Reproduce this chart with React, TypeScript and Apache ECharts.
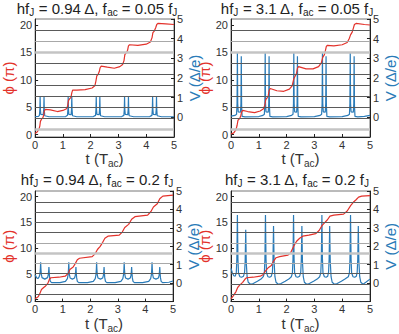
import React, { useEffect, useRef } from 'react';
import * as echarts from 'echarts';

const timeTicks = [0, 1, 2, 3, 4, 5];
const phaseTicks = [0, 5, 10, 15, 20];
const voltTicks = [0, 1, 2, 3, 4, 5];
const phaseLevels = [1, 3, 5, 7, 9, 11, 13, 15, 17, 19];

const hfValues = ['0.94', '3.1', '0.94', '3.1'];
const facValues = ['0.05', '0.05', '0.2', '0.2'];
const thickLightLevels = [[15, 1], [15, 1], [9], [9]];
const thinLightLevels = [[17], [17], [11, 7], [11, 7]];

const p1Phase = [[0,0.2],[0.08,0.5],[0.14,1.0],[0.17,1.6],[0.19,2.4],[0.23,2.8],[0.28,3.1],[0.31,3.6],[0.33,4.3],[0.37,4.6],[0.55,4.5],[0.8,4.2],[1.0,4.4],[1.13,4.7],[1.17,5.2],[1.2,6.2],[1.24,6.5],[1.29,6.8],[1.32,7.6],[1.35,8.1],[1.5,8.1],[1.8,8.2],[2.05,8.5],[2.15,8.9],[2.19,9.8],[2.22,10.7],[2.27,11.0],[2.31,11.5],[2.34,12.2],[2.38,12.5],[2.6,12.3],[2.85,12.1],[3.05,12.4],[3.15,12.8],[3.2,13.5],[3.23,14.6],[3.28,14.9],[3.33,15.4],[3.36,16.2],[3.4,16.4],[3.7,16.3],[4.0,16.5],[4.15,16.9],[4.21,17.7],[4.24,18.6],[4.29,18.9],[4.34,19.5],[4.38,20.1],[4.42,20.3],[4.7,20.2],[5,20.1]];

const p1Volt = [[0,0.04],[0.12,0.05],[0.155,0.1],[0.17,0.4],[0.18,1.05],[0.19,0.4],[0.205,0.15],[0.29,0.14],[0.31,0.4],[0.32,1.05],[0.33,0.4],[0.345,0.08],[0.5,0.03],
[1.1,0.04],[1.165,0.1],[1.18,0.4],[1.19,1.05],[1.2,0.4],[1.215,0.15],[1.295,0.14],[1.31,0.4],[1.32,1.05],[1.33,0.4],[1.345,0.08],[1.5,0.03],
[2.1,0.04],[2.175,0.1],[2.19,0.4],[2.2,1.05],[2.21,0.4],[2.225,0.15],[2.305,0.14],[2.32,0.4],[2.33,1.05],[2.34,0.4],[2.355,0.08],[2.5,0.03],
[3.12,0.04],[3.195,0.1],[3.21,0.4],[3.22,1.05],[3.23,0.4],[3.245,0.15],[3.335,0.14],[3.35,0.4],[3.36,1.05],[3.37,0.4],[3.385,0.08],[3.55,0.03],
[4.13,0.04],[4.205,0.1],[4.22,0.4],[4.23,1.05],[4.24,0.4],[4.255,0.15],[4.345,0.14],[4.36,0.4],[4.37,1.05],[4.38,0.4],[4.395,0.08],[4.55,0.03],[5,0.03]];

const p2Phase = [[0,0.1],[0.1,0.3],[0.18,0.9],[0.22,1.7],[0.25,2.6],[0.31,2.9],[0.35,3.4],[0.38,4.1],[0.42,4.4],[0.6,4.2],[0.85,4.0],[1.05,4.3],[1.17,4.7],[1.22,5.4],[1.25,6.4],[1.3,6.7],[1.34,7.1],[1.37,8.0],[1.41,8.4],[1.65,8.0],[1.9,7.9],[2.1,8.3],[2.2,8.9],[2.26,10.2],[2.3,10.6],[2.36,11.2],[2.39,12.1],[2.43,12.4],[2.7,12.0],[2.95,12.0],[3.15,12.4],[3.25,13.1],[3.3,14.1],[3.36,14.6],[3.4,15.4],[3.43,16.1],[3.47,16.3],[3.7,16.2],[4.0,16.4],[4.18,16.8],[4.26,17.6],[4.3,18.2],[4.36,18.7],[4.4,19.4],[4.44,20.1],[4.5,20.3],[4.8,20.1],[5,20.0]];

const p2Volt = [[0,0.06],[0.15,0.1],[0.2,0.16],[0.218,0.7],[0.23,3.3],[0.242,0.7],[0.26,0.28],[0.34,0.26],[0.358,0.7],[0.37,3.1],[0.382,0.6],[0.4,0.05],[0.5,0.02],
[1.0,0.04],[1.15,0.1],[1.2,0.16],[1.218,0.7],[1.23,3.3],[1.242,0.7],[1.26,0.28],[1.34,0.26],[1.358,0.7],[1.37,3.1],[1.382,0.6],[1.4,0.05],[1.5,0.02],
[2.0,0.04],[2.18,0.1],[2.23,0.16],[2.248,0.7],[2.26,3.3],[2.272,0.7],[2.29,0.28],[2.36,0.26],[2.378,0.7],[2.39,3.1],[2.402,0.6],[2.42,0.05],[2.52,0.02],
[3.0,0.04],[3.21,0.1],[3.26,0.16],[3.278,0.7],[3.29,3.3],[3.302,0.7],[3.32,0.28],[3.39,0.26],[3.408,0.7],[3.42,3.1],[3.432,0.6],[3.45,0.05],[3.55,0.02],
[4.0,0.04],[4.21,0.1],[4.26,0.16],[4.278,0.7],[4.29,3.3],[4.302,0.7],[4.32,0.28],[4.4,0.26],[4.418,0.7],[4.43,3.1],[4.442,0.6],[4.46,0.05],[4.56,0.02],[4.8,0.05],[5,0.1]];

const p3Phase = [[0,0.1],[0.11,0.5],[0.17,1.1],[0.23,1.9],[0.31,2.3],[0.38,2.6],[0.46,3.1],[0.52,3.9],[0.57,4.2],[0.86,4.3],[1.09,4.5],[1.21,5.1],[1.26,5.8],[1.38,6.3],[1.46,7.0],[1.53,7.7],[1.61,8.0],[2.07,8.3],[2.18,8.9],[2.26,9.7],[2.36,10.3],[2.45,11.1],[2.53,11.9],[2.64,12.3],[3.05,12.5],[3.16,13.1],[3.25,14.0],[3.39,14.6],[3.5,15.6],[3.62,16.1],[4.08,16.4],[4.2,17.1],[4.29,18.0],[4.43,18.6],[4.52,19.6],[4.63,20.1],[5,20.3]];

const p3Volt = [[0,0.45],[0.05,0.3],[0.1,0.25],[0.15,0.35],[0.175,0.5],[0.19,0.78],[0.2,1.13],[0.21,0.78],[0.225,0.48],[0.25,0.3],[0.35,0.22],[0.45,0.3],[0.475,0.45],[0.49,0.65],[0.5,0.87],[0.51,0.6],[0.525,0.3],[0.55,0.1],[0.6,0.03],[0.9,0.03],
[1.1,0.1],[1.17,0.25],[1.195,0.45],[1.21,0.75],[1.22,1.13],[1.23,0.75],[1.245,0.45],[1.27,0.28],[1.35,0.22],[1.43,0.28],[1.455,0.42],[1.47,0.65],[1.48,0.87],[1.49,0.6],[1.505,0.3],[1.53,0.1],[1.58,0.03],[1.9,0.03],
[2.11,0.1],[2.18,0.25],[2.205,0.45],[2.22,0.75],[2.23,1.13],[2.24,0.75],[2.255,0.45],[2.28,0.28],[2.37,0.22],[2.45,0.28],[2.475,0.42],[2.49,0.65],[2.5,0.87],[2.51,0.6],[2.525,0.3],[2.55,0.1],[2.6,0.03],[2.9,0.03],
[3.11,0.1],[3.18,0.25],[3.205,0.45],[3.22,0.75],[3.23,1.13],[3.24,0.75],[3.255,0.45],[3.28,0.28],[3.37,0.22],[3.45,0.28],[3.475,0.42],[3.49,0.65],[3.5,0.87],[3.51,0.6],[3.525,0.3],[3.55,0.1],[3.6,0.03],[3.9,0.03],
[4.12,0.1],[4.19,0.25],[4.215,0.45],[4.23,0.75],[4.24,1.13],[4.25,0.75],[4.265,0.45],[4.29,0.28],[4.38,0.22],[4.47,0.28],[4.495,0.42],[4.51,0.65],[4.52,0.87],[4.53,0.6],[4.545,0.3],[4.57,0.1],[4.62,0.03],[4.85,0.05],[5,0.12]];

const p4Phase = [[0,0.1],[0.1,0.8],[0.18,1.5],[0.24,2.3],[0.32,2.8],[0.42,3.3],[0.5,3.9],[0.56,4.2],[0.8,4.3],[1.05,4.5],[1.15,4.8],[1.25,5.6],[1.35,6.2],[1.45,6.6],[1.54,7.5],[1.62,8.1],[1.75,8.3],[2.05,8.6],[2.15,9.1],[2.26,10.4],[2.36,11.3],[2.47,11.9],[2.58,12.3],[2.8,12.5],[3.05,12.8],[3.17,13.4],[3.28,14.4],[3.38,15.0],[3.47,15.5],[3.56,16.2],[3.7,16.4],[4.05,16.6],[4.18,17.2],[4.31,18.3],[4.4,18.9],[4.5,19.4],[4.59,19.9],[4.7,20.1],[5,20.2]];

const p4Volt = [[0,0.8],[0.05,0.55],[0.1,0.4],[0.15,0.38],[0.19,0.55],[0.21,1.3],[0.23,3.7],[0.25,1.3],[0.27,0.55],[0.32,0.35],[0.38,0.32],[0.45,0.38],[0.49,0.6],[0.51,1.2],[0.53,2.9],[0.55,1.1],[0.58,0.35],[0.62,0.05],[0.7,-0.06],[0.8,-0.02],[0.95,0.1],[1.08,0.22],[1.16,0.35],
[1.2,0.55],[1.22,1.3],[1.24,3.7],[1.26,1.3],[1.28,0.55],[1.33,0.35],[1.39,0.32],[1.45,0.38],[1.49,0.6],[1.51,1.3],[1.53,3.1],[1.55,1.2],[1.58,0.35],[1.62,0.05],[1.7,-0.06],[1.8,-0.02],[1.95,0.1],[2.08,0.22],[2.17,0.35],
[2.21,0.55],[2.23,1.3],[2.25,3.7],[2.27,1.3],[2.29,0.55],[2.34,0.35],[2.4,0.32],[2.47,0.38],[2.51,0.6],[2.53,1.3],[2.55,3.1],[2.57,1.2],[2.6,0.35],[2.64,0.05],[2.72,-0.06],[2.82,-0.02],[2.97,0.1],[3.1,0.22],[3.19,0.35],
[3.23,0.55],[3.25,1.3],[3.27,3.7],[3.29,1.3],[3.31,0.55],[3.36,0.35],[3.42,0.32],[3.48,0.38],[3.51,0.6],[3.53,1.3],[3.55,3.1],[3.57,1.2],[3.6,0.35],[3.64,0.05],[3.72,-0.06],[3.82,-0.02],[3.97,0.1],[4.1,0.22],[4.22,0.35],
[4.26,0.55],[4.28,1.3],[4.3,3.7],[4.32,1.3],[4.34,0.55],[4.39,0.35],[4.45,0.32],[4.51,0.38],[4.54,0.6],[4.56,1.3],[4.58,3.1],[4.6,1.2],[4.63,0.35],[4.67,0.05],[4.75,-0.06],[4.85,0.05],[5,0.22]];

const phaseSeries = [p1Phase, p2Phase, p3Phase, p4Phase];
const voltSeries = [p1Volt, p2Volt, p3Volt, p4Volt];

const RED = '#e3322b';
const BLUE = '#2a7bb8';
const FONT = '"Liberation Sans", Arial, sans-serif';

const layouts = [
  { left: 29, top: 19, width: 145, height: 118, tx: 97, ty: 0 },
  { left: 231, top: 19, width: 144, height: 118, tx: 297, ty: 0 },
  { left: 28, top: 191, width: 145, height: 115, tx: 97, ty: 171 },
  { left: 231, top: 191, width: 144, height: 115, tx: 297, ty: 171 },
];

function levelStyle(i: number, v: number) {
  if (thickLightLevels[i].includes(v)) return { color: '#c4c4c4', width: 2.6, type: 'solid' };
  if (thinLightLevels[i].includes(v)) return { color: '#a8a8a8', width: 1.2, type: 'solid' };
  return { color: '#5a5a5a', width: 1, type: 'solid' };
}

function buildOption() {
  const grid: any[] = [];
  const xAxis: any[] = [];
  const yAxis: any[] = [];
  const series: any[] = [];
  const graphic: any[] = [];
  layouts.forEach((L, i) => {
    grid.push({ left: L.left, top: L.top, width: L.width, height: L.height, show: true, borderColor: '#777', borderWidth: 1 });
    xAxis.push({
      type: 'value', gridIndex: i, min: timeTicks[0], max: timeTicks[timeTicks.length - 1], interval: 1,
      name: '{a|t (T}{s|ac}{a|)}', nameLocation: 'middle', nameGap: 9,
      nameTextStyle: { fontFamily: FONT, rich: { a: { fontSize: 15, color: '#333', fontFamily: FONT }, s: { fontSize: 10, color: '#333', fontFamily: FONT, padding: [10, 0, 0, 0] } } },
      axisLine: { show: true, onZero: false, lineStyle: { color: '#222', width: 1 } },
      axisTick: { show: true, inside: true, length: 3, lineStyle: { color: '#222' } },
      axisLabel: { margin: 2, fontSize: 11, color: '#333', fontFamily: FONT },
      splitLine: { show: false },
    });
    yAxis.push({
      type: 'value', gridIndex: i, position: 'left', min: -0.45, max: 21.1,
      name: 'ϕ (π)', nameLocation: 'middle', nameGap: 12, nameRotate: 90,
      nameTextStyle: { color: RED, fontSize: 15, fontFamily: FONT },
      axisLine: { show: true, onZero: false, lineStyle: { color: '#222', width: 1 } },
      axisTick: { show: true, inside: true, length: 3, customValues: phaseTicks, lineStyle: { color: '#222' } },
      axisLabel: { margin: 3, fontSize: 11, color: '#333', fontFamily: FONT, customValues: phaseTicks },
      splitLine: { show: false },
    });
    yAxis.push({
      type: 'value', gridIndex: i, position: 'right', min: -1, max: voltTicks[voltTicks.length - 1], interval: 1,
      name: 'V (Δ/e)', nameLocation: 'middle', nameGap: 11, nameRotate: 90,
      nameTextStyle: { color: BLUE, fontSize: 15, fontFamily: FONT },
      axisLine: { show: true, onZero: false, lineStyle: { color: '#222', width: 1 } },
      axisTick: { show: true, inside: true, length: 3, lineStyle: { color: '#222' } },
      axisLabel: { margin: 3, fontSize: 11, color: '#333', fontFamily: FONT, formatter: (v: number) => (voltTicks.includes(v) ? String(v) : '') },
      splitLine: { show: false },
    });
    series.push({
      type: 'line', xAxisIndex: i, yAxisIndex: 2 * i, data: [], silent: true, z: 1,
      markLine: {
        silent: true, symbol: 'none', animation: false, label: { show: false },
        lineStyle: { type: 'solid' },
        data: phaseLevels.map((v) => ({ yAxis: v, lineStyle: levelStyle(i, v) })),
      },
    });
    series.push({
      type: 'line', xAxisIndex: i, yAxisIndex: 2 * i + 1, data: voltSeries[i], symbol: 'none', showSymbol: false,
      lineStyle: { color: BLUE, width: 1.2 }, z: 3,
    });
    series.push({
      type: 'line', xAxisIndex: i, yAxisIndex: 2 * i, data: phaseSeries[i], symbol: 'none', showSymbol: false,
      lineStyle: { color: RED, width: 1.2 }, z: 4,
    });
    graphic.push({
      type: 'text', x: L.tx, y: L.ty, silent: true,
      style: {
        text: `{a|hf}{s|J}{a| = ${hfValues[i]} Δ, f}{s|ac}{a| = ${facValues[i]} f}{s|J}`,
        align: 'center', verticalAlign: 'top', fill: '#222', fontFamily: FONT, fontSize: 15,
        rich: {
          a: { fontSize: 15, fill: '#222', fontFamily: FONT },
          s: { fontSize: 10, fill: '#222', fontFamily: FONT, padding: [7, 0, 0, 0] },
        },
      },
    });
  });
  return { animation: false, textStyle: { fontFamily: FONT }, grid, xAxis, yAxis, series, graphic };
}

export default function App() {
  const ref = useRef<HTMLDivElement>(null);
  useEffect(() => {
    const chart = echarts.init(ref.current as HTMLDivElement, null, { renderer: 'svg' });
    chart.setOption(buildOption() as any);
    return () => chart.dispose();
  }, []);
  return <div ref={ref} style={{ position: 'absolute', left: 0, top: 0, width: 399, height: 334, background: '#fff' }} />;
}
